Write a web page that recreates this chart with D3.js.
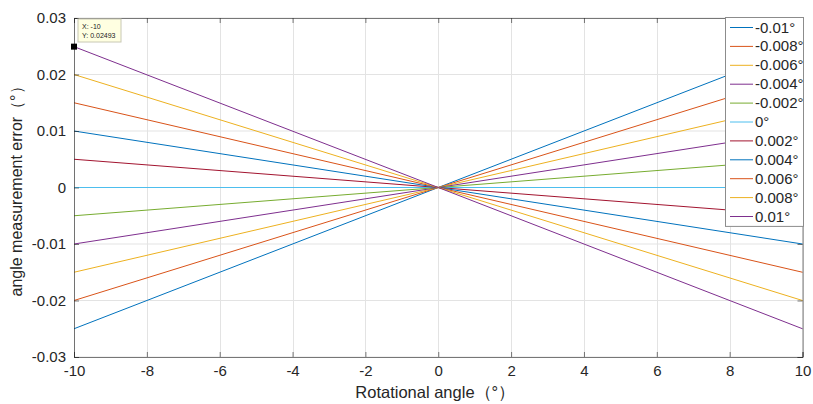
<!DOCTYPE html>
<html lang="en">
<head>
<meta charset="UTF-8">
<title>angle measurement error</title>
<style>
  body { margin: 0; background: #fff; }
  text { font-family: "Liberation Sans", Arial, sans-serif; }
</style>
</head>
<body>
<script src="https://cdn.jsdelivr.net/npm/d3@7"></script>
<script>
var width = 813, height = 404;
var margin = {top: 18, right: 10, bottom: 47, left: 74};

// data
var xValues = [-10, 0, 10];
var seriesNames = ["-0.01°", "-0.008°", "-0.006°", "-0.004°", "-0.002°", "0°",
                   "0.002°", "0.004°", "0.006°", "0.008°", "0.01°"];
var seriesValues = [
  [-0.025, 0, 0.025],
  [-0.02, 0, 0.02],
  [-0.015, 0, 0.015],
  [-0.01, 0, 0.01],
  [-0.005, 0, 0.005],
  [0, 0, 0],
  [0.005, 0, -0.005],
  [0.01, 0, -0.01],
  [0.015, 0, -0.015],
  [0.02, 0, -0.02],
  [0.02493, 0, -0.025]
];
var xTicks = [-10, -8, -6, -4, -2, 0, 2, 4, 6, 8, 10];
var yTicks = [-0.03, -0.02, -0.01, 0, 0.01, 0.02, 0.03];
var tipX = -10, tipY = 0.02493;

var colors = ["#0072BD", "#D95319", "#EDB120", "#7E2F8E", "#77AC30", "#4DBEEE", "#A2142F"];

var svg = d3.select("body").append("svg")
  .attr("width", width).attr("height", height);

var x = d3.scaleLinear().domain([-10, 10]).range([margin.left, width - margin.right - 0.5]);
var y = d3.scaleLinear().domain([-0.03, 0.03]).range([height - margin.bottom, margin.top]);

// grid
svg.append("g").selectAll("line").data(xTicks).enter().append("line")
  .attr("x1", d => Math.round(x(d)) + 0.5).attr("x2", d => Math.round(x(d)) + 0.5)
  .attr("y1", y(0.03)).attr("y2", y(-0.03))
  .attr("stroke", "#e3e3e3").attr("stroke-width", 1);
svg.append("g").selectAll("line").data(yTicks).enter().append("line")
  .attr("y1", d => y(d)).attr("y2", d => y(d))
  .attr("x1", x(-10)).attr("x2", x(10))
  .attr("stroke", "#e3e3e3").attr("stroke-width", 1);

// lines
var line = d3.line().x((d, i) => x(xValues[i])).y(d => y(d));
svg.append("g").selectAll("path").data(seriesValues).enter().append("path")
  .attr("d", d => line(d))
  .attr("fill", "none")
  .attr("stroke", (d, i) => colors[i % colors.length])
  .attr("stroke-width", 1);

// axes (hyphen minus as in the original)
var hy = s => s.replace("−", "-");
var fmtY = d => d === 0 ? "0" : hy(d3.format(".2~f")(d));
var fmtX = d => hy(d3.format("d")(d));
var xAxis = d3.axisBottom(x).tickValues(xTicks).tickSize(-5).tickPadding(8).tickFormat(fmtX);
var yAxis = d3.axisLeft(y).tickValues(yTicks).tickSize(-5).tickPadding(8).tickFormat(fmtY);
var xTop = d3.axisTop(x).tickValues(xTicks).tickSize(-5).tickFormat("");
var yRight = d3.axisRight(y).tickValues(yTicks).tickSize(-5).tickFormat("");

function styleAxis(g) {
  g.selectAll("path").attr("stroke", "#262626").attr("opacity", 0.6);
  g.selectAll("line").attr("stroke", "#262626").attr("opacity", 0.6);
  g.selectAll("text").attr("font-size", 15).attr("fill", "#262626")
    .style("font-family", "'Liberation Sans', Arial, sans-serif");
}
svg.append("g").attr("transform", "translate(0," + y(-0.03) + ")").call(xAxis).call(styleAxis);
svg.append("g").attr("transform", "translate(" + x(-10) + ",0)").call(yAxis).call(styleAxis);
svg.append("g").attr("transform", "translate(0," + y(0.03) + ")").call(xTop).call(styleAxis);
svg.append("g").attr("transform", "translate(" + x(10) + ",0)").call(yRight).call(styleAxis);

// axis labels
svg.append("text")
  .attr("x", (x(-10) + x(10)) / 2 - 3).attr("y", 398)
  .attr("text-anchor", "middle").attr("font-size", 16.5).attr("fill", "#262626")
  .text("Rotational angle（°）");
svg.append("text")
  .attr("transform", "translate(22," + ((y(0.03) + y(-0.03)) / 2) + ") rotate(-90)")
  .attr("text-anchor", "middle").attr("font-size", 16).attr("fill", "#262626")
  .text("angle measurement error（°）");

// legend
var lg = svg.append("g").attr("transform", "translate(725,17)");
var rowH = 18.9;
lg.append("rect").attr("x", 0.5).attr("y", 0.5)
  .attr("width", 78).attr("height", seriesNames.length * rowH + 1)
  .attr("fill", "#fff").attr("stroke", "#8c8c8c");
var rows = lg.selectAll("g.row").data(seriesNames).enter().append("g")
  .attr("transform", (d, i) => "translate(0," + (10.5 + i * rowH) + ")");
rows.append("line").attr("x1", 5).attr("x2", 28).attr("y1", 0).attr("y2", 0)
  .attr("stroke", (d, i) => colors[i % colors.length]);
rows.append("text").attr("x", 30).attr("y", 5)
  .attr("font-size", 15).attr("fill", "#262626").text(d => d);

// data tip
svg.append("rect")
  .attr("x", x(tipX) - 3).attr("y", y(tipY) - 3).attr("width", 6).attr("height", 6)
  .attr("fill", "#000");
var tip = svg.append("g").attr("transform", "translate(" + (x(tipX) + 4) + "," + (y(0.03) + 1) + ")");
tip.append("rect").attr("x", 0).attr("y", 0).attr("width", 43).attr("height", 23)
  .attr("fill", "#ffffe1").attr("stroke", "#c8c8b4");
tip.append("text").attr("x", 4).attr("y", 9.5).attr("font-size", 7).attr("fill", "#222").text("X: " + tipX);
tip.append("text").attr("x", 4).attr("y", 19).attr("font-size", 7).attr("fill", "#222").text("Y: " + tipY);
</script>
</body>
</html>
